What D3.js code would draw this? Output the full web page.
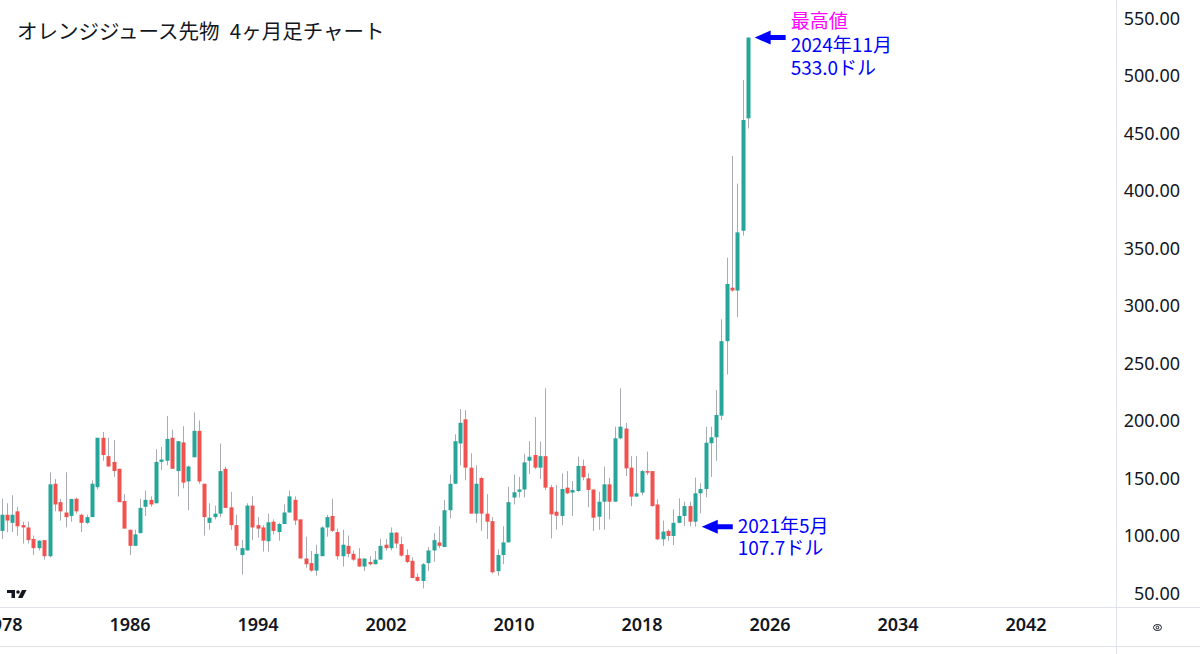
<!DOCTYPE html>
<html>
<head>
<meta charset="utf-8">
<script src="https://cdn.jsdelivr.net/npm/d3@7"></script>
<style>
  body { margin: 0; background: #fff; }
  svg { display: block; }
</style>
</head>
<body>
<div class="chart"></div>
<script>
// 4ヶ月足 (Jan / May / Sep bars), 1978-01 .. 2024-09
let periods = [
  "1978-01","1978-05","1978-09","1979-01","1979-05","1979-09","1980-01","1980-05","1980-09",
  "1981-01","1981-05","1981-09","1982-01","1982-05","1982-09","1983-01","1983-05","1983-09",
  "1984-01","1984-05","1984-09","1985-01","1985-05","1985-09","1986-01","1986-05","1986-09",
  "1987-01","1987-05","1987-09","1988-01","1988-05","1988-09","1989-01","1989-05","1989-09",
  "1990-01","1990-05","1990-09","1991-01","1991-05","1991-09","1992-01","1992-05","1992-09",
  "1993-01","1993-05","1993-09","1994-01","1994-05","1994-09","1995-01","1995-05","1995-09",
  "1996-01","1996-05","1996-09","1997-01","1997-05","1997-09","1998-01","1998-05","1998-09",
  "1999-01","1999-05","1999-09","2000-01","2000-05","2000-09","2001-01","2001-05","2001-09",
  "2002-01","2002-05","2002-09","2003-01","2003-05","2003-09","2004-01","2004-05","2004-09",
  "2005-01","2005-05","2005-09","2006-01","2006-05","2006-09","2007-01","2007-05","2007-09",
  "2008-01","2008-05","2008-09","2009-01","2009-05","2009-09","2010-01","2010-05","2010-09",
  "2011-01","2011-05","2011-09","2012-01","2012-05","2012-09","2013-01","2013-05","2013-09",
  "2014-01","2014-05","2014-09","2015-01","2015-05","2015-09","2016-01","2016-05","2016-09",
  "2017-01","2017-05","2017-09","2018-01","2018-05","2018-09","2019-01","2019-05","2019-09",
  "2020-01","2020-05","2020-09","2021-01","2021-05","2021-09","2022-01","2022-05","2022-09",
  "2023-01","2023-05","2023-09","2024-01","2024-05","2024-09"
];

let opens = [
  104,118,111,121,109,107,97,89,96, 82,145,129,120,117,132,118,111,116,
  142,185,169,164,158,130,105,91,102, 125,131,128,164,165,185,156,181,147,
  168,191,145,111,116,119,158,124.5,109, 83,87,126,109,107,95,112,103,110,
  120,131,114,80,76,69.5,82,107,117, 103,82,91,84,80,73,77,75,79,
  92,89,102.5,92.5,83,78,64,60.5,76, 87,94,90,122,145,180,201,159,119,
  150,119,112.5,69,83,94,133,138,140, 165,170,159,169,142,120.7,117,141.6,137.3,
  138.7,160.5,149.7,140,116.3,129.4,144.5,129.4,184.5, 193,159,133.8,137.3,156,156,127,96.7,104,
  99.6,111,117,125.6,112,136.7,140.4,180.2,185.4, 204.2,269,315.5,313,365,462.8
];
let highs = [
  132,128,135,125,112,112,100,96,96, 155,149,132,155,132,133,119,118,148,
  185,190,185,183,158,136,105,105,132, 139,134,175,177,204,192,182,195,161,
  207,200,145,128,126,180,160,138,118, 96,128,134,116,109,119,114,111,127,
  139,134,114,99,86.5,92,108,118,132, 106,105,100,87,89,80,82,86.5,97,
  97,107,103,99,88,81,67,76,90, 102,108,131,153,188,210,209,171.5,161,
  151,136,116,88,108,142.5,153,151,171, 182,203,181.6,228,144,144,154,156,147.4,
  168.5,166,154,140,138,160,150,194.6,228, 198,169,169,157,173,156,131.4,113,105.4,
  122.7,132.3,129.4,129.4,150.3,145.4,194.6,194.6,226.5, 288,341.6,430,406,496,533
];
let lows = [
  97,103,103,100,93,93,83,87,79, 81,121,113,107,112,119,103,110,116,
  140,165,160,151,129,106,83,91,102, 117,125,128,157,161,158,134,141,122,
  168,145,100,105,114,116,124,105,87, 66,87,96,98,86,86,101,95.5,110,
  120,109,80,72,68.5,65,82,99,103, 79,73,81,78,73,69,74,75,79,
  87,87,89,81.5,76,63,60,54,69, 77,89,90,115,145,161,148,119,111,
  104,97,67,65,75,94,127,133,133, 153.5,157.6,149,139.6,97.5,105,109,136,117,
  138,148,124.5,104,105,105,114,129.4,183.6, 151.7,125.6,133.8,135,152.6,125,96,91,95.5,
  91.7,110.6,108.3,108,107.7,119.3,133.2,151,165, 200.4,240,312,290,360.7,454
];
let closes = [
  118,113,118,108,107,96,89,95.5,82, 144.5,127,121,116,131.7,121,111,116,145,
  185,170,160,156,129,106,91,101,124, 131,127,164,166,184,158,182,146,160,
  191,147,116,115.5,119,156,124,109,91, 89,126,107,106,95.5,111.5,104,110,120,
  134,113,80,75,69.5,84,107,116,104, 82,92,84,79,73,80,75,79,91,
  89,102.5,93,82.5,77,63,60.5,75,87, 96,91,122,145,182,198,159,119,145,
  119,112,68,83,94,129,137.6,140,163.6, 168.5,159,169,141.6,118.4,117.2,140.4,136.7,139.6,
  160.5,150.6,139.6,115.5,129.4,144.5,129.4,184.5,194.6, 158.4,133.8,136.7,156,154.6,125.6,96.7,103.4,99.6,
  111,117,125.6,112,136.7,140.4,180.7,185.4,204.8, 269,318.7,313,363.6,461.3,533
];

let priceTicks = [50,100,150,200,250,300,350,400,450,500,550];
let yearTicks = ["1978","1986","1994","2002","2010","2018","2026","2034","2042"];

let titleText = "オレンジジュース先物\u20024ヶ月足チャート";
let peakNote = {period: "2024-09", price: 533.0, lines: ["最高値","2024年11月","533.0ドル"]};
let lowNote = {period: "2021-05", price: 107.7, lines: ["2021年5月","107.7ドル"]};

let W = 1200, H = 654;
let plotRight = 1116, plotBottom = 607;
let parse = d3.utcParse("%Y-%m");
let up = "#26a69a", down = "#ef5350", wick = "#a9abb2";
let lineCol = "#e0e3eb", textCol = "#131722";

let bars = periods.map(function(p, i){
  return {date: parse(p), o: opens[i], h: highs[i], l: lows[i], c: closes[i]};
});

let svg = d3.select(".chart").append("svg")
  .attr("width", W).attr("height", H)
  .style("font-family", "'Noto Sans', 'Noto Sans CJK JP', sans-serif");

let xScale = d3.scaleUtc()
  .domain([parse("1978-01"), parse("2026-01")])
  .range([1.5, 769.5]);
let yScale = d3.scaleLinear().domain([50, 550]).range([593, 18]);

svg.append("clipPath").attr("id", "plot")
  .append("rect").attr("x", 0).attr("y", 0).attr("width", plotRight).attr("height", plotBottom);

// frame lines
svg.append("line").attr("x1", plotRight + 0.5).attr("x2", plotRight + 0.5)
  .attr("y1", 0).attr("y2", H).attr("stroke", lineCol);
svg.append("line").attr("x1", 0).attr("x2", W)
  .attr("y1", plotBottom + 0.5).attr("y2", plotBottom + 0.5).attr("stroke", lineCol);
svg.append("line").attr("x1", 0).attr("x2", W)
  .attr("y1", 646.5).attr("y2", 646.5).attr("stroke", lineCol);

let candles = svg.append("g").attr("clip-path", "url(#plot)");
let bw = 4;

candles.selectAll("line.wick").data(bars).enter()
  .append("line").attr("class", "wick")
  .attr("x1", function(d){ return Math.round(xScale(d.date)) + 0.5; })
  .attr("x2", function(d){ return Math.round(xScale(d.date)) + 0.5; })
  .attr("y1", function(d){ return yScale(d.h); })
  .attr("y2", function(d){ return yScale(d.l); })
  .attr("stroke", wick).attr("stroke-width", 1);

candles.selectAll("rect.body").data(bars).enter()
  .append("rect").attr("class", "body")
  .attr("x", function(d){ return Math.round(xScale(d.date)) - bw / 2 + 0.5; })
  .attr("width", bw)
  .attr("y", function(d){ return yScale(Math.max(d.o, d.c)); })
  .attr("height", function(d){ return Math.max(1.5, Math.abs(yScale(d.o) - yScale(d.c))); })
  .attr("fill", function(d){ return d.c >= d.o ? up : down; });

// price axis
let yAxis = d3.axisRight(yScale).tickValues(priceTicks)
  .tickFormat(d3.format(".2f")).tickSize(0);
let yAxisGroup = svg.append("g").attr("transform", "translate(" + plotRight + ",0)").call(yAxis);
yAxisGroup.select(".domain").remove();
yAxisGroup.selectAll("text")
  .attr("x", 64).attr("dy", "0.35em")
  .attr("text-anchor", "end")
  .attr("fill", textCol)
  .style("font-size", "18px")
  .style("font-family", "'Noto Sans', sans-serif");

// time axis
let xAxis = d3.axisBottom(xScale)
  .tickValues(yearTicks.map(function(y){ return parse(y + "-01"); }))
  .tickFormat(d3.utcFormat("%Y")).tickSize(0);
let xAxisGroup = svg.append("g").attr("transform", "translate(0," + plotBottom + ")").call(xAxis);
xAxisGroup.select(".domain").remove();
xAxisGroup.selectAll("text")
  .attr("y", 18).attr("dy", "0.35em")
  .attr("fill", textCol)
  .style("font-size", "18px")
  .style("font-weight", "600")
  .style("font-family", "'Noto Sans', sans-serif");

// title
svg.append("text").attr("x", 17).attr("y", 32).attr("dy", "0.35em")
  .attr("fill", textCol)
  .style("font-size", "20.5px")
  .style("font-family", "'Noto Sans CJK JP', sans-serif")
  .text(titleText);

// left-pointing arrows + notes
function arrow(tx, ty, col){
  let p = "M" + tx + "," + ty +
    " L" + (tx + 16) + "," + (ty - 7) +
    " L" + (tx + 16) + "," + (ty - 2.5) +
    " L" + (tx + 31) + "," + (ty - 2.5) +
    " L" + (tx + 31) + "," + (ty + 2.5) +
    " L" + (tx + 16) + "," + (ty + 2.5) +
    " L" + (tx + 16) + "," + (ty + 7) + " Z";
  svg.append("path").attr("d", p).attr("fill", col);
}

let pk = {x: xScale(parse(peakNote.period)) + 6.5, y: yScale(peakNote.price)};
arrow(pk.x, pk.y, "#0000ff");
svg.append("g").selectAll("text").data(peakNote.lines).enter()
  .append("text")
  .attr("x", pk.x + 36)
  .attr("y", function(d, i){ return pk.y - 16 + i * 23.3; })
  .attr("dy", "0.35em")
  .attr("fill", function(d, i){ return i == 0 ? "#ff00ff" : "#0000ff"; })
  .style("font-size", "19px")
  .style("font-family", "'Noto Sans CJK JP', sans-serif")
  .text(function(d){ return d; });

let lw = {x: xScale(parse(lowNote.period)) + 7, y: yScale(lowNote.price)};
arrow(lw.x, lw.y, "#0000ff");
svg.append("g").selectAll("text").data(lowNote.lines).enter()
  .append("text")
  .attr("x", lw.x + 36)
  .attr("y", function(d, i){ return lw.y + i * 22; })
  .attr("dy", "0.35em")
  .attr("fill", "#0000ff")
  .style("font-size", "19px")
  .style("font-family", "'Noto Sans CJK JP', sans-serif")
  .text(function(d){ return d; });

// small logo bottom-left
let logo = svg.append("g").attr("fill", textCol);
logo.append("path").attr("d", "M7,590 H15 V598 H11.5 V593 H7 Z");
logo.append("circle").attr("cx", 18).attr("cy", 592).attr("r", 1.8);
logo.append("path").attr("d", "M22,590 H26.5 L22.5,598 H18 Z");

// settings icon bottom-right
let ic = svg.append("g").attr("fill", "none").attr("stroke", textCol).attr("stroke-width", 1);
ic.append("ellipse").attr("cx", 1157.5).attr("cy", 627.5).attr("rx", 4).attr("ry", 3);
ic.append("circle").attr("cx", 1157.5).attr("cy", 627.5).attr("r", 1.3);
</script>
</body>
</html>
